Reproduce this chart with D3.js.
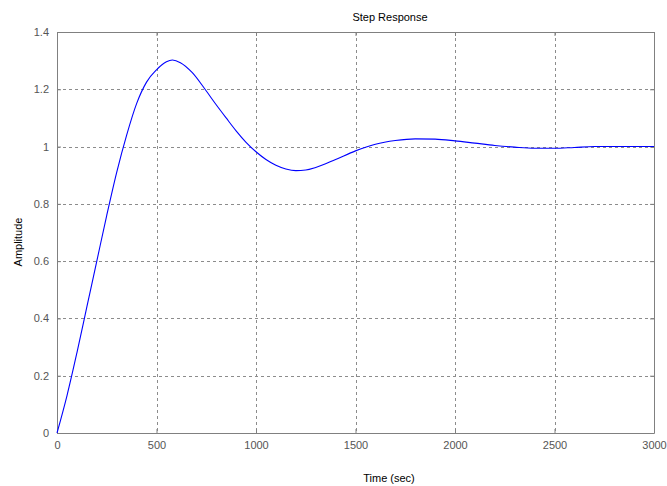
<!DOCTYPE html>
<html>
<head>
<meta charset="utf-8">
<script src="https://cdn.jsdelivr.net/npm/d3@7"></script>
<style>
  html, body { margin: 0; padding: 0; background: #fff; }
  svg { display: block; font-family: "Liberation Sans", Arial, sans-serif; }
</style>
</head>
<body>
<svg id="chart" width="667" height="486"></svg>
<script>
// Step response samples: time (sec) and amplitude
const timeSec = [0, 50, 100, 150, 200, 250, 300, 350, 400, 450, 500, 550, 580, 620, 680, 744, 800, 850, 900, 950, 1000, 1050, 1100, 1150, 1200, 1250, 1300, 1400, 1500, 1600, 1700, 1800, 1900, 2000, 2100, 2200, 2300, 2400, 2500, 2600, 2700, 2850, 3000];
const amplitude = [0, 0.13, 0.28, 0.44, 0.60, 0.76, 0.91, 1.04, 1.15, 1.225, 1.268, 1.296, 1.302, 1.293, 1.258, 1.200, 1.146, 1.100, 1.055, 1.015, 0.982, 0.955, 0.935, 0.922, 0.916, 0.918, 0.927, 0.955, 0.985, 1.008, 1.021, 1.027, 1.026, 1.020, 1.012, 1.004, 0.998, 0.994, 0.994, 0.997, 1.000, 1.000, 1.000];
const xTicks = [0, 500, 1000, 1500, 2000, 2500, 3000];
const yTicks = [0, 0.2, 0.4, 0.6, 0.8, 1, 1.2, 1.4];

const svg = d3.select("#chart");
const plotLeft = 57, plotRight = 654, plotTop = 32, plotBottom = 433;

const x = d3.scaleLinear().domain([0, 3000]).range([plotLeft, plotRight]);
const y = d3.scaleLinear().domain([0, 1.4]).range([plotBottom, plotTop]);

const gridColor = "#8c8c8c";
const axisColor = "#808080";

// dashed grid lines
svg.append("g").selectAll("line").data(xTicks.slice(1, -1)).join("line")
  .attr("x1", d => Math.round(x(d)) + 0.5).attr("x2", d => Math.round(x(d)) + 0.5)
  .attr("y1", plotTop).attr("y2", plotBottom)
  .attr("stroke", gridColor).attr("stroke-dasharray", "3,3").attr("stroke-width", 1);
svg.append("g").selectAll("line").data(yTicks.slice(1, -1)).join("line")
  .attr("y1", d => Math.round(y(d)) + 0.5).attr("y2", d => Math.round(y(d)) + 0.5)
  .attr("x1", plotLeft).attr("x2", plotRight)
  .attr("stroke", gridColor).attr("stroke-dasharray", "3,3").attr("stroke-width", 1);

// axes with inward ticks on all four sides
function styleAxis(g) {
  g.select(".domain").attr("stroke", axisColor);
  g.selectAll(".tick line").attr("stroke", axisColor);
  g.selectAll(".tick text").attr("fill", "#555").style("font-size", "11px");
}
const fmtY = d => d3.format("~g")(d);

svg.append("g").attr("transform", `translate(0,${plotBottom})`)
  .call(d3.axisBottom(x).tickValues(xTicks).tickSizeInner(-4).tickSizeOuter(0).tickPadding(8).tickFormat(d3.format("d")))
  .call(styleAxis);
svg.append("g").attr("transform", `translate(0,${plotTop})`)
  .call(d3.axisTop(x).tickValues(xTicks).tickSizeInner(-4).tickSizeOuter(0).tickFormat(""))
  .call(styleAxis);
svg.append("g").attr("transform", `translate(${plotLeft},0)`)
  .call(d3.axisLeft(y).tickValues(yTicks).tickSizeInner(-4).tickSizeOuter(0).tickPadding(8).tickFormat(fmtY))
  .call(styleAxis);
svg.append("g").attr("transform", `translate(${plotRight},0)`)
  .call(d3.axisRight(y).tickValues(yTicks).tickSizeInner(-4).tickSizeOuter(0).tickFormat(""))
  .call(styleAxis);

// response curve
const pts = timeSec.map((t, i) => [t, amplitude[i]]);
svg.append("path").datum(pts)
  .attr("fill", "none").attr("stroke", "#0000ff").attr("stroke-width", 1.1)
  .attr("d", d3.line().x(d => x(d[0])).y(d => y(d[1])).curve(d3.curveMonotoneX));

// labels
svg.append("text").attr("x", 390).attr("y", 21).attr("text-anchor", "middle")
  .style("font-size", "11px").attr("fill", "#000").text("Step Response");
svg.append("text").attr("x", 389).attr("y", 482).attr("text-anchor", "middle")
  .style("font-size", "11px").attr("fill", "#000").text("Time (sec)");
svg.append("text").attr("transform", "translate(22,242) rotate(-90)").attr("text-anchor", "middle")
  .style("font-size", "11px").attr("fill", "#000").text("Amplitude");
</script>
</body>
</html>
